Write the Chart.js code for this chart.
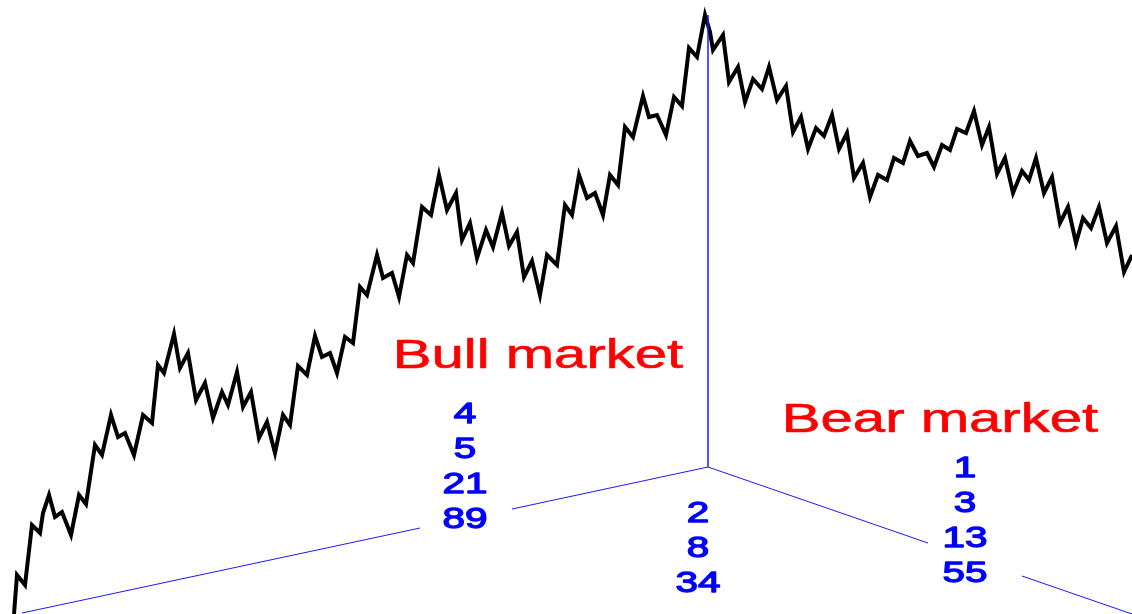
<!DOCTYPE html>
<html>
<head>
<meta charset="utf-8">
<script src="https://cdn.jsdelivr.net/npm/chart.js@4/dist/chart.umd.min.js"></script>
<style>
  html, body { margin: 0; padding: 0; background: #fff; }
  #wrap { width: 1132px; height: 614px; }
</style>
</head>
<body>
<div id="wrap"><canvas id="waves" width="1132" height="614"></canvas></div>
<script>
// trading days and index level of the swing
var days = [14,17,25,32,40,43,49,55,62,71,79,86,95,102,111,118,125,134,143,152,158,164,174,180,188,196,205,213,222,228,237,243,251,259,267,275,283,290,298,307,315,322,330,337,345,353,360,367,377,383,392,399,407,413,422,431,439,447,456,462,470,477,486,493,502,509,517,524,532,540,547,557,565,572,579,587,595,603,610,618,625,633,643,649,657,666,674,682,689,697,705,710,713,723,729,738,745,753,762,769,777,786,793,801,808,816,824,832,839,847,854,863,870,878,887,894,903,910,918,927,934,942,950,957,966,974,982,989,997,1005,1013,1022,1029,1036,1044,1052,1060,1068,1076,1083,1091,1099,1107,1116,1124,1132];
var level = [0,39,29,89,81,101,119,97,102,79,119,110,169,159,199,177,181,159,199,191,249,241,280,246,261,214,231,196,222,209,242,207,222,176,192,161,199,189,248,239,278,257,261,241,277,271,327,319,359,336,341,317,359,351,407,399,439,404,421,374,391,356,384,367,401,368,382,337,353,319,359,349,409,399,439,416,421,399,439,429,487,477,518,497,499,479,517,508,566,557,599,582,564,579,532,547,512,535,525,547,514,528,482,497,465,486,478,499,465,481,436,451,417,439,434,456,451,473,458,461,447,469,464,485,481,503,469,487,440,456,421,443,434,456,421,437,391,407,371,396,386,407,371,388,342,359];

// perspective floor: left edge, corner post, right edge (null = break for labels)
var floorX = [22, 420, 512, 708, 708, 708, 928, 1022, 1132];
var floorY = [1, 86, 105, 147, 599, 147, 71, 38, 0];
var floorBreaks = [1, 6]; // segment ends before these gaps

var bullCounts = ['4', '5', '21', '89'];
var flatCounts = ['2', '8', '34'];
var bearCounts = ['1', '3', '13', '55'];

var pricePts = days.map(function (d, i) { return { x: d, y: level[i] }; });
var floorPts = [];
for (var i = 0; i < floorX.length; i++) {
  floorPts.push({ x: floorX[i], y: floorY[i] });
  if (floorBreaks.indexOf(i) >= 0) floorPts.push({ x: floorX[i], y: null });
}

// label blocks: [text, x, baseline, size, widen, colour, extra stroke]
// widen > 3 means "stretch ink to this many pixels"
var labels = [['Bull market', 538, 246, 41, 287, '#ff0000', 0.6],
              ['Bear market', 940, 182, 41, 313, '#ff0000', 0.6]];
bullCounts.forEach(function (t, k) { labels.push([t, 465, 191 - k * 35, 30, 1.35, '#0000ff', 1.3]); });
flatCounts.forEach(function (t, k) { labels.push([t, 698, 92 - k * 35, 30, 1.35, '#0000ff', 1.3]); });
bearCounts.forEach(function (t, k) { labels.push([t, 965, 137 - k * 35, 30, 1.35, '#0000ff', 1.3]); });

var textPlugin = {
  id: 'waveText',
  afterDatasetsDraw: function (chart) {
    var ctx = chart.ctx, sx = chart.scales.x, sy = chart.scales.y;
    labels.forEach(function (l) {
      ctx.save();
      ctx.font = l[3] + 'px "Liberation Sans", Arial, sans-serif';
      var k = l[4];
      if (k > 3) {
        var m = ctx.measureText(l[0]);
        k = k / (m.actualBoundingBoxLeft + m.actualBoundingBoxRight);
      }
      ctx.translate(sx.getPixelForValue(l[1]), sy.getPixelForValue(l[2]));
      ctx.scale(k, 1);
      ctx.fillStyle = l[5];
      ctx.strokeStyle = l[5];
      ctx.lineWidth = l[6];
      ctx.lineJoin = 'round';
      ctx.textAlign = 'center';
      ctx.textBaseline = 'alphabetic';
      ctx.fillText(l[0], 0, 0);
      ctx.strokeText(l[0], 0, 0);
      ctx.restore();
    });
  }
};

new Chart(document.getElementById('waves'), {
  type: 'line',
  data: {
    datasets: [{
      data: floorPts,
      borderColor: '#1a1aff',
      borderWidth: 1,
      pointRadius: 0,
      spanGaps: false,
      tension: 0,
      clip: false
    }, {
      data: pricePts,
      borderColor: '#000',
      borderWidth: 4,
      pointRadius: 0,
      tension: 0,
      borderJoinStyle: 'miter',
      clip: false
    }]
  },
  options: {
    responsive: false,
    animation: false,
    layout: { padding: 0 },
    plugins: { legend: { display: false }, tooltip: { enabled: false } },
    scales: {
      x: { type: 'linear', min: 0, max: 1132, display: false },
      y: { min: 0, max: 614, display: false }
    }
  },
  plugins: [textPlugin]
});
</script>
</body>
</html>
